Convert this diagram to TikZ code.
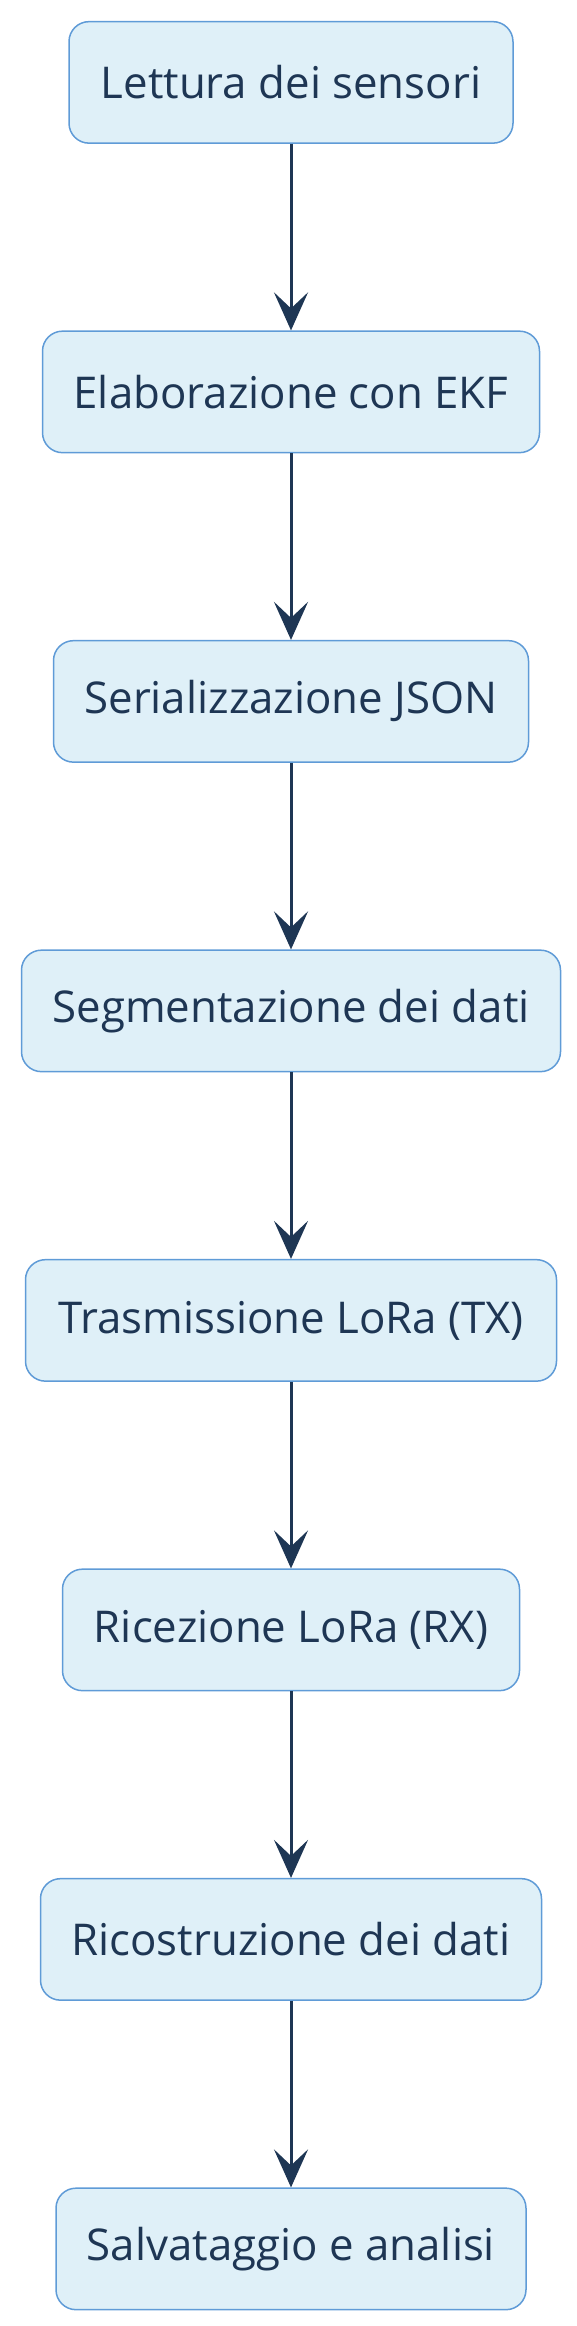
\documentclass[tikz,border=0pt]{standalone}
\usepackage{fontspec}
\setmainfont{Open Sans}
\usetikzlibrary{arrows.meta}
\definecolor{boxfill}{RGB}{223,240,248}
\definecolor{boxline}{RGB}{95,155,215}
\definecolor{ink}{RGB}{30,54,84}
\tikzset{
  stepbox/.style={draw=boxline, line width=1.5pt, fill=boxfill, rounded corners=20pt,
    minimum height=121.5pt, inner sep=0pt, text=ink,
    font=\fontsize{43.8}{50}\selectfont},
  flow/.style={draw=ink, line width=3pt, -{Stealth[length=38pt, width=34pt, inset=16pt]}}
}
\begin{document}
\begin{tikzpicture}[x=1pt,y=-1pt]
\useasboundingbox (0,0) rectangle (576,2326);
\node[stepbox, minimum width=444pt] (n1) at (291,82.4) {Lettura dei sensori};
\node[stepbox, minimum width=497pt] (n2) at (291,391.9) {Elaborazione con EKF};
\node[stepbox, minimum width=475pt] (n3) at (291,701.4) {Serializzazione JSON};
\node[stepbox, minimum width=539pt] (n4) at (291,1010.9) {Segmentazione dei dati};
\node[stepbox, minimum width=531pt] (n5) at (291,1320.4) {Trasmissione LoRa (TX)};
\node[stepbox, minimum width=457pt] (n6) at (291,1629.9) {Ricezione LoRa (RX)};
\node[stepbox, minimum width=501pt] (n7) at (291,1939.4) {Ricostruzione dei dati};
\node[stepbox, minimum width=470pt] (n8) at (291,2248.9) {Salvataggio e analisi};
\draw[flow] (n1) -- (n2);
\draw[flow] (n2) -- (n3);
\draw[flow] (n3) -- (n4);
\draw[flow] (n4) -- (n5);
\draw[flow] (n5) -- (n6);
\draw[flow] (n6) -- (n7);
\draw[flow] (n7) -- (n8);
\end{tikzpicture}
\end{document}
